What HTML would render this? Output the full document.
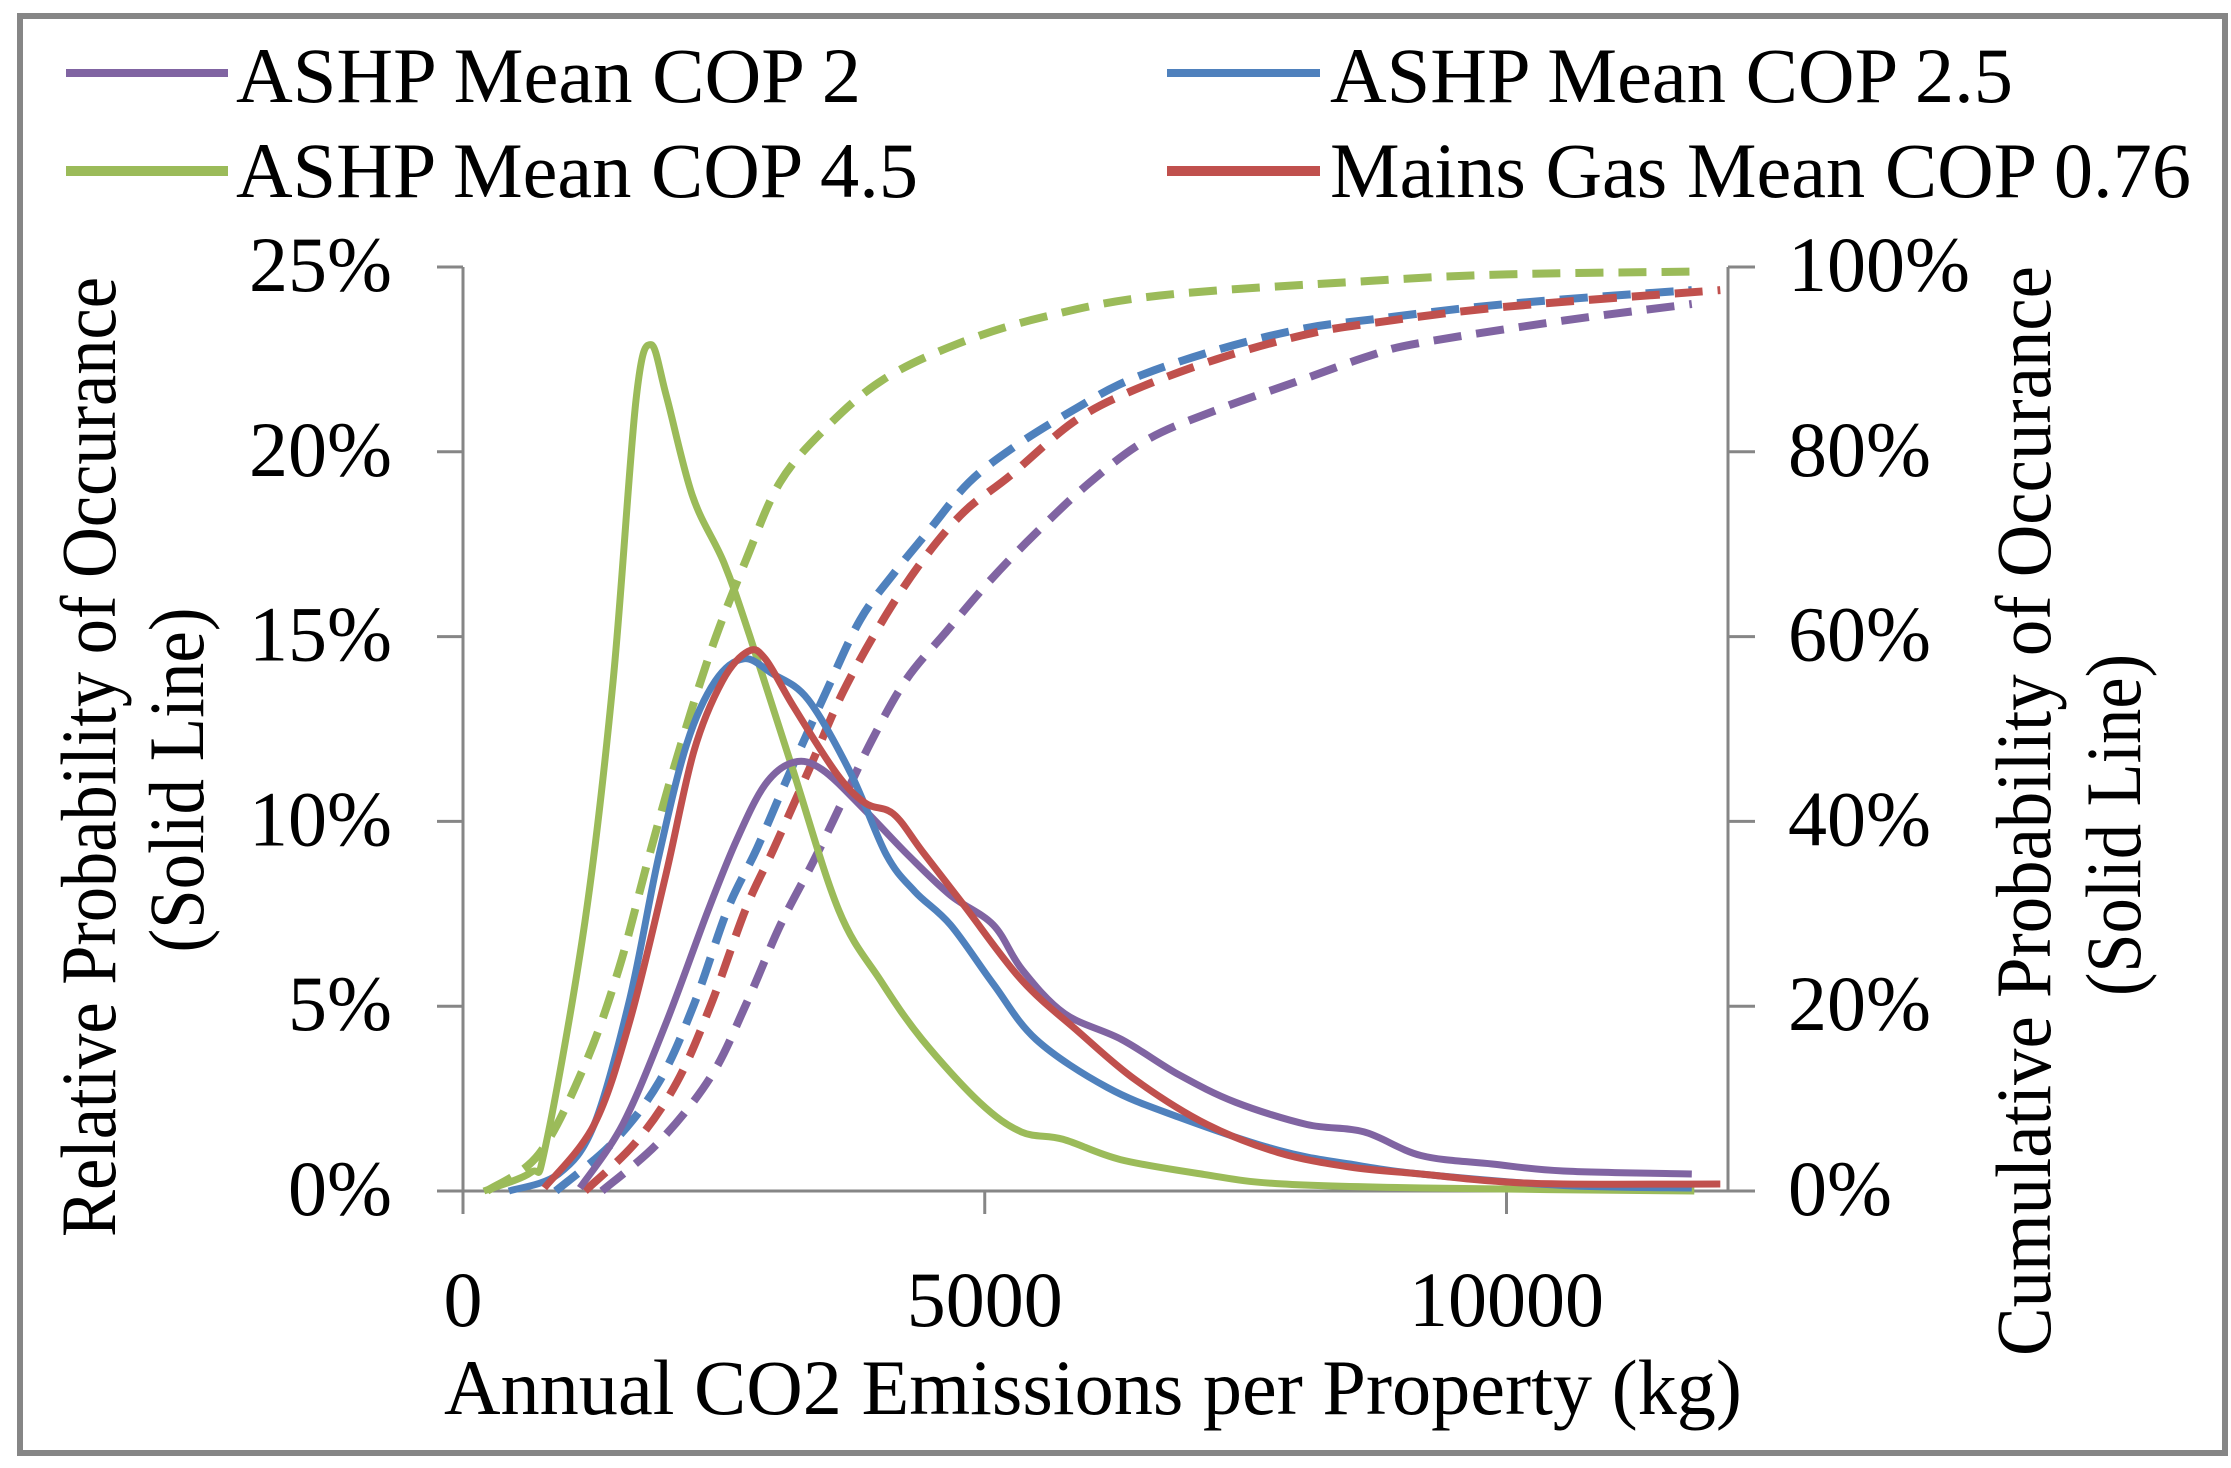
<!DOCTYPE html>
<html><head><meta charset="utf-8"><style>
html,body{margin:0;padding:0;background:#fff;}
svg{display:block;}
text{font-family:"Liberation Serif",serif;fill:#000;}
</style></head><body>
<svg id="chart" width="2231" height="1468" viewBox="0 0 2231 1468" xmlns="http://www.w3.org/2000/svg">
<rect x="20" y="16" width="2205" height="1437" fill="#fff" stroke="#868686" stroke-width="6"/>
<g id="legend">
 <g>
  <line x1="66" y1="73" x2="228" y2="73" stroke="#8064a2" stroke-width="8"/>
  <text x="236" y="102" font-size="78" textLength="625" lengthAdjust="spacingAndGlyphs">ASHP Mean COP 2</text></g>
 <g>
  <line x1="1167" y1="73" x2="1320" y2="73" stroke="#4f81bd" stroke-width="8"/>
  <text x="1330" y="102" font-size="78" textLength="683" lengthAdjust="spacingAndGlyphs">ASHP Mean COP 2.5</text></g>
 <g>
  <line x1="66" y1="171" x2="228" y2="171" stroke="#9bbb59" stroke-width="10"/>
  <text x="236" y="197" font-size="78" textLength="682" lengthAdjust="spacingAndGlyphs">ASHP Mean COP 4.5</text></g>
 <g>
  <line x1="1167" y1="171" x2="1320" y2="171" stroke="#c0504d" stroke-width="10"/>
  <text x="1330" y="197" font-size="78" textLength="861" lengthAdjust="spacingAndGlyphs">Mains Gas Mean COP 0.76</text></g>
</g>
<g id="axes"></g>
<g id="series"></g>
<text x="444" y="1414" font-size="78" textLength="1298" lengthAdjust="spacingAndGlyphs">Annual CO2 Emissions per Property (kg)</text>
<text transform="translate(115,757) rotate(-90)" text-anchor="middle" font-size="78" textLength="960" lengthAdjust="spacingAndGlyphs">Relative Probability of Occurance</text>
<text transform="translate(203,780) rotate(-90)" text-anchor="middle" font-size="78" textLength="345" lengthAdjust="spacingAndGlyphs">(Solid Line)</text>
<text transform="translate(2050,811) rotate(-90)" text-anchor="middle" font-size="78" textLength="1090" lengthAdjust="spacingAndGlyphs">Cumulative Probability of Occurance</text>
<text transform="translate(2140,825) rotate(-90)" text-anchor="middle" font-size="78" textLength="342" lengthAdjust="spacingAndGlyphs">(Solid Line)</text>
</svg>
<script>
const xTicks=[0,5000,10000];
const yLeftTicks=[0,5,10,15,20,25];
const yLeftLabels=["0%","5%","10%","15%","20%","25%"];
const yRightTicks=[0,20,40,60,80,100];
const yRightLabels=["0%","20%","40%","60%","80%","100%"];

const greenX=[200,650,790,1169,1438,1658,1800,1950,2200,2500,2750,3150,3600,4000,4400,4950,5350,5750,6300,7100,7800,9200,11800];
const greenY=[0,0.5,1.2,7.3,13.8,21.4,22.9,21.5,18.8,17,15,11.5,7.6,5.7,4.1,2.4,1.6,1.4,0.85,0.45,0.2,0.08,0];
const blueX=[440,915,1257,1598,1872,2145,2418,2691,2964,3306,3716,4057,4331,4672,5082,5492,6175,6858,7814,8497,9180,10546,11776];
const blueY=[0,0.46,1.8,5.2,9.0,12.1,13.8,14.4,14.0,13.3,11.3,9.1,8.1,7.2,5.6,4.1,2.8,2.0,1.1,0.73,0.46,0.15,0.08];
const redX=[779,1257,1598,1940,2213,2486,2732,2896,3169,3579,3852,4126,4399,4809,5355,5902,6448,7131,7814,8497,9180,9863,10546,12049];
const redY=[0.08,1.8,4.6,8.5,11.9,13.8,14.6,14.4,13.1,11.3,10.5,10.2,9.2,7.7,5.7,4.3,3.0,1.8,1.04,0.65,0.46,0.27,0.19,0.19];
const purpleX=[1120,1530,1940,2350,2623,2896,3169,3443,3852,4262,4672,5082,5355,5765,6311,6858,7404,8087,8634,9180,9863,10546,11776];
const purpleY=[0.08,1.8,4.5,7.6,9.5,11.0,11.6,11.4,10.3,9.1,8.0,7.2,6.0,4.8,4.1,3.15,2.4,1.8,1.6,0.96,0.73,0.54,0.46];

const greenCumX=[230,728,1169,1495,1773,2051,2377,2712,3038,3479,4025,4744,5568,6670,8692,10000,11776];
const greenCumY=[0,4.0,13.7,24.1,35.8,46.9,58.5,68.3,76.7,82.6,87.8,91.7,94.6,96.9,98.5,99.2,99.5];
const blueCumX=[889,1442,1878,2214,2540,2818,3143,3479,3805,4140,4466,4849,5290,5846,6392,7216,8040,8692,10000,11776];
const blueCumY=[0,5.3,11.8,20.2,30.6,37.1,45.6,54.0,61.8,67.0,71.5,76.7,80.6,84.5,87.8,91.0,93.3,94.3,96.0,97.5];
const redCumX=[1169,1658,2051,2377,2712,2980,3316,3642,4025,4408,4801,5242,5846,6392,7216,8040,8692,10000,12049];
const redCumY=[0,5.3,11.8,20.2,30.6,37.1,45.6,54.0,61.8,68.3,73.5,77.4,83.2,86.5,90.0,92.6,93.9,95.7,97.5];
const purpleCumX=[1332,1878,2377,2712,3038,3364,3642,3919,4245,4629,5022,5462,6009,6555,7216,8040,8692,9180,10546,11776];
const purpleCumY=[0,5.3,12.4,20.2,28.7,35.8,42.3,48.8,55.3,60.5,65.7,70.9,76.7,81.3,84.5,87.8,90.4,91.8,94.2,96.0];

const NS="http://www.w3.org/2000/svg";
const X0=463,X1=1728,Y0=1191,Y1=267;
function xs(v){return 463+v*0.10435;}
function yl(v){return Y0-(v/25)*(Y0-Y1);}
function yr(v){return Y0-(v/100)*(Y0-Y1);}
function mk(tag,attrs,parent){const e=document.createElementNS(NS,tag);for(const k in attrs)e.setAttribute(k,attrs[k]);parent.appendChild(e);return e;}

const axes=document.getElementById('axes');
const gray="#868686";
let e;
e=mk('line',{x1:X0,y1:Y1,x2:X0,y2:Y0,stroke:gray,'stroke-width':3},axes);


e=mk('line',{x1:X1,y1:Y1,x2:X1,y2:Y0,stroke:gray,'stroke-width':3},axes);


e=mk('line',{x1:437,y1:Y0,x2:1755,y2:Y0,stroke:gray,'stroke-width':3},axes);


yLeftTicks.forEach((v,i)=>{
  const y=yl(v);
  e=mk('line',{x1:437,y1:y,x2:X0,y2:y,stroke:gray,'stroke-width':3},axes);
  
  
  e=mk('text',{x:392,y:y+24,'text-anchor':'end','font-size':78},axes);
  e.textContent=yLeftLabels[i];
  
  
});
yRightTicks.forEach((v,i)=>{
  const y=yr(v);
  e=mk('line',{x1:X1,y1:y,x2:1755,y2:y,stroke:gray,'stroke-width':3},axes);
  
  
  e=mk('text',{x:1788,y:y+24,'font-size':78},axes);
  e.textContent=yRightLabels[i];
  
  
});
xTicks.forEach(v=>{
  const x=xs(v);
  e=mk('line',{x1:x,y1:Y0,x2:x,y2:1214,stroke:gray,'stroke-width':3},axes);
  
  
  e=mk('text',{x:x,y:1326,'text-anchor':'middle','font-size':78},axes);
  e.textContent=String(v);
  
  
});

const series=document.getElementById('series');
function path(xa,ya,yfn){
  const p=xa.map((v,i)=>[xs(v),yfn(ya[i])]);
  let d='M'+p[0][0].toFixed(1)+','+p[0][1].toFixed(1);
  for(let i=0;i<p.length-1;i++){
    const p0=p[i-1]||p[i],p1=p[i],p2=p[i+1],p3=p[i+2]||p2;
    const c1=[p1[0]+(p2[0]-p0[0])/6,p1[1]+(p2[1]-p0[1])/6];
    const c2=[p2[0]-(p3[0]-p1[0])/6,p2[1]-(p3[1]-p1[1])/6];
    d+=' C'+c1[0].toFixed(1)+','+c1[1].toFixed(1)+' '+c2[0].toFixed(1)+','+c2[1].toFixed(1)+' '+p2[0].toFixed(1)+','+p2[1].toFixed(1);
  }
  return d;
}
function draw(xa,ya,yfn,color,dashed,name){
  const p=mk('path',{d:path(xa,ya,yfn),fill:'none',stroke:color,'stroke-width':dashed?8:7,'stroke-linejoin':'round','stroke-linecap':'butt'},series);
  if(dashed)p.setAttribute('stroke-dasharray','28 15');
  
  
}
draw(greenCumX,greenCumY,yr,'#9bbb59',true,'ashp-cop-4-5-cumulative');
draw(purpleCumX,purpleCumY,yr,'#8064a2',true,'ashp-cop-2-cumulative');
draw(blueCumX,blueCumY,yr,'#4f81bd',true,'ashp-cop-2-5-cumulative');
draw(redCumX,redCumY,yr,'#c0504d',true,'mains-gas-cumulative');
draw(greenX,greenY,yl,'#9bbb59',false,'ashp-cop-4-5-relative');
draw(purpleX,purpleY,yl,'#8064a2',false,'ashp-cop-2-relative');
draw(blueX,blueY,yl,'#4f81bd',false,'ashp-cop-2-5-relative');
draw(redX,redY,yl,'#c0504d',false,'mains-gas-relative');
</script>
</body></html>
